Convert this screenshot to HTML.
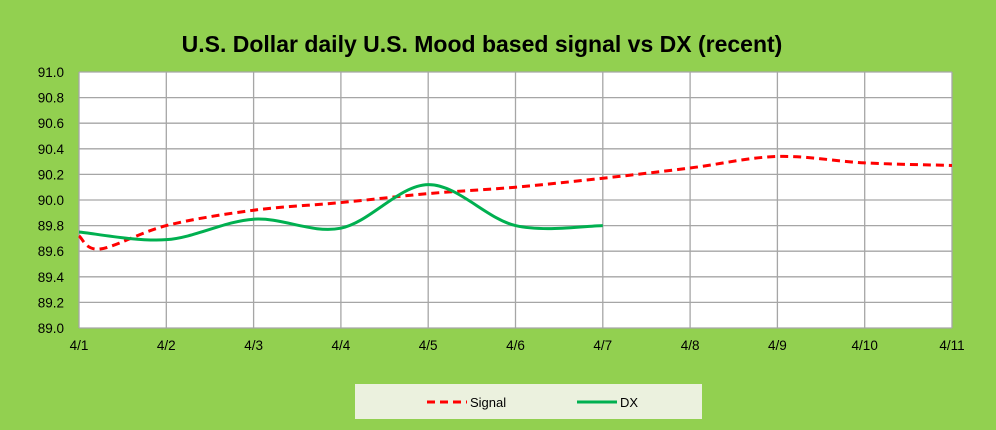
<!DOCTYPE html>
<html><head><meta charset="utf-8"><style>
body{margin:0;background:#92d050;}
svg{display:block}
text{font-family:"Liberation Sans",Calibri,sans-serif;}
</style></head><body>
<svg id="s" width="996" height="430" xmlns="http://www.w3.org/2000/svg">
<rect width="996" height="430" fill="#92d050"/>
<text x="482" y="52" text-anchor="middle" font-size="23" font-weight="bold" fill="#000">U.S. Dollar daily U.S. Mood based signal vs DX (recent)</text>
<rect x="79" y="72" width="873" height="256" fill="#fff"/>
<g id="grid" stroke="#a6a6a6" stroke-width="1.3"></g>
<g id="labels" font-size="13.5" fill="#000"></g>
<path id="sig" fill="none" stroke="#ff0000" stroke-width="3" stroke-dasharray="8,5"/>
<path id="dx" fill="none" stroke="#00b050" stroke-width="3"/>
<rect x="355" y="384" width="347" height="35" fill="#ebf1de"/>
<line x1="427" y1="402" x2="467" y2="402" stroke="#ff0000" stroke-width="3" stroke-dasharray="8,5"/>
<text x="470" y="407" font-size="13">Signal</text>
<line x1="577" y1="402" x2="617" y2="402" stroke="#00b050" stroke-width="3"/>
<text x="620" y="407" font-size="13">DX</text>
</svg>
<script>
var g=document.getElementById('grid'),L=document.getElementById('labels'),ns='http://www.w3.org/2000/svg';
function el(p,t,a){var e=document.createElementNS(ns,t);for(var k in a)e.setAttribute(k,a[k]);p.appendChild(e);return e;}
for(var i=0;i<=10;i++){var y=72+i*25.6;el(g,'line',{x1:79,x2:952,y1:y,y2:y});
 var t=el(L,'text',{x:64,y:y+5,'text-anchor':'end'});t.textContent=(91-i*0.2).toFixed(1);}
for(var i=0;i<=10;i++){var x=79+i*87.3;el(g,'line',{x1:x,x2:x,y1:72,y2:328});
 var t=el(L,'text',{x:x,y:350,'text-anchor':'middle'});t.textContent='4/'+(i+1);}
function Y(v){return 72+(91-v)*128}
function X(i){return 79+87.3*i}
function cr(p){var d='M'+p[0][0]+','+p[0][1];for(var i=0;i<p.length-1;i++){var a=p[i-1]||p[i],b=p[i],c=p[i+1],e=p[i+2]||c;
 d+=' C'+(b[0]+(c[0]-a[0])/6)+','+(b[1]+(c[1]-a[1])/6)+' '+(c[0]-(e[0]-b[0])/6)+','+(c[1]-(e[1]-b[1])/6)+' '+c[0]+','+c[1];}return d;}
var s=[[X(0),Y(89.72)],[100,249],[X(1),Y(89.80)],[X(2),Y(89.92)],[X(3),Y(89.98)],[X(4),Y(90.05)],[X(5),Y(90.10)],[X(6),Y(90.17)],[X(7),Y(90.25)],[X(8),Y(90.34)],[X(9),Y(90.29)],[X(10),Y(90.27)]];
var d=[[X(0),Y(89.75)],[X(1),Y(89.69)],[X(2),Y(89.85)],[X(3),Y(89.78)],[X(4),Y(90.12)],[X(5),Y(89.80)],[X(6),Y(89.80)]];
document.getElementById('sig').setAttribute('d',cr(s));
document.getElementById('dx').setAttribute('d',cr(d));
</script>
</body></html>
